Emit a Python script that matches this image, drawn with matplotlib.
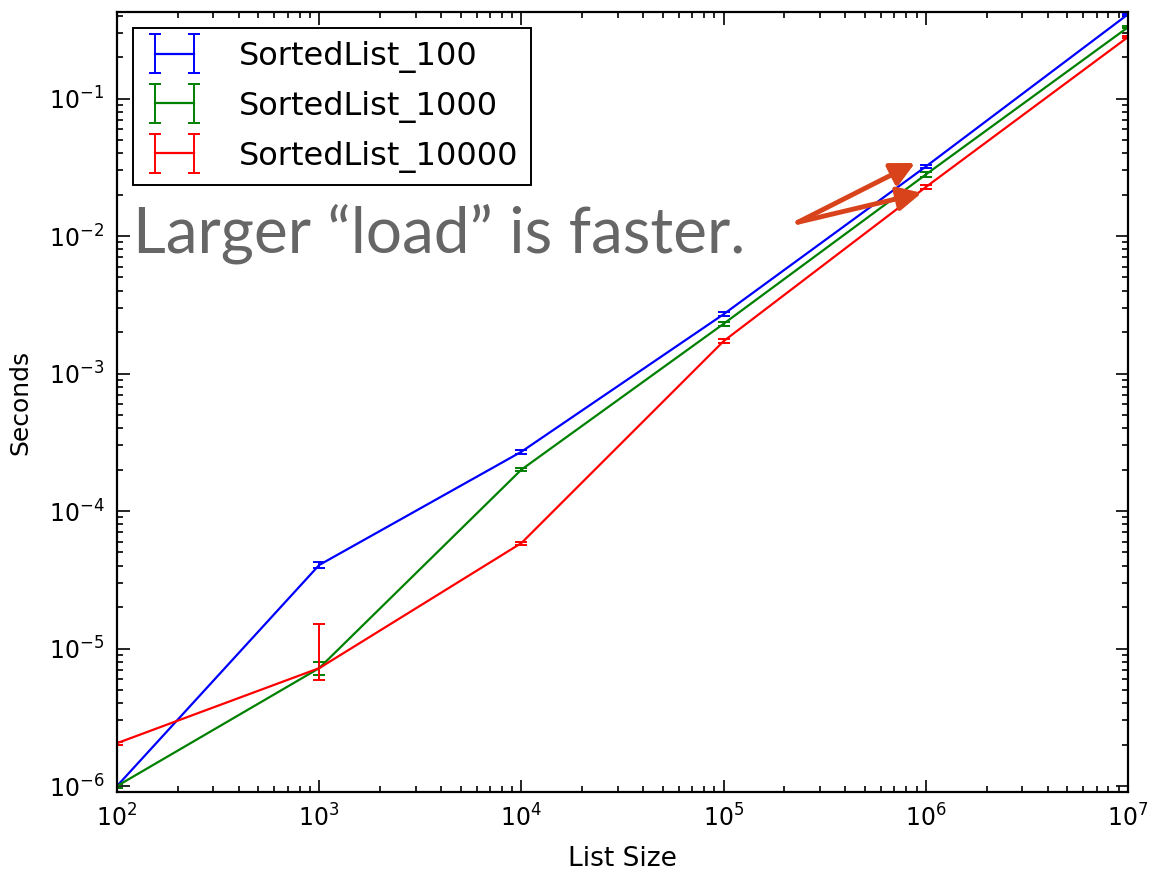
import matplotlib
matplotlib.use("Agg")
import matplotlib.pyplot as plt
from matplotlib.container import ErrorbarContainer
from matplotlib.legend_handler import HandlerErrorbar

# ---- data ----
list_sizes = [1e2, 1e3, 1e4, 1e5, 1e6, 1e7]

series_names = ["SortedList_100", "SortedList_1000", "SortedList_10000"]
series_colors = ["#0000ff", "#008000", "#ff0000"]

secs_100 = [1.0e-6, 4.05e-5, 2.7e-4, 2.7e-3, 0.032, 0.41]
secs_1000 = [1.0e-6, 7.2e-6, 2.0e-4, 2.3e-3, 0.028, 0.33]
secs_10000 = [2.05e-6, 7.2e-6, 5.85e-5, 1.72e-3, 0.0227, 0.28]

err_100 = [0.03e-6, 2.0e-6, 8e-6, 8e-5, 1.0e-3, 5e-3]
err_1000 = [0.03e-6, 0.8e-6, 6e-6, 8e-5, 1.2e-3, 5e-3]
err_10000_low = [0.05e-6, 1.3e-6, 1.5e-6, 5e-5, 8e-4, 5e-3]
err_10000_high = [0.05e-6, 7.8e-6, 1.5e-6, 5e-5, 8e-4, 5e-3]

x_label = "List Size"
y_label = "Seconds"
note_text = "Larger \u201cload\u201d is faster."

# ---- figure ----
W, H = 1157, 872
fig = plt.figure(figsize=(W / 100, H / 100), dpi=100, facecolor="white")
ax = fig.add_axes([117 / W, 1 - 792 / H, (1128 - 117) / W, (792 - 12) / H])

all_secs = [secs_100, secs_1000, secs_10000]
all_errs = [err_100, err_1000, [err_10000_low, err_10000_high]]
for name, col, ys, er in zip(series_names, series_colors, all_secs, all_errs):
    ax.errorbar(list_sizes, ys, yerr=er, color=col, lw=1.6, capsize=4,
                capthick=1.4, elinewidth=1.4, label=name)

ax.set_xscale("log")
ax.set_yscale("log")
ax.set_xlim(1e2, 1e7)
ax.set_ylim(9.05e-7, 0.426)

ax.tick_params(which="both", direction="in", top=True, right=True, width=1.2)
ax.tick_params(which="major", length=9, labelsize=17, pad=9)
ax.tick_params(which="minor", length=4.5)
for sp in ax.spines.values():
    sp.set_linewidth(1.6)

ax.set_xlabel(x_label, fontsize=19, labelpad=10)
ax.set_ylabel(y_label, fontsize=18, labelpad=12)

leg = ax.legend(loc="upper left", fontsize=23, handlelength=1.8, numpoints=2,
                handletextpad=1.1, labelspacing=0.56, borderaxespad=0.5,
                borderpad=0.4, fancybox=False, framealpha=1,
                handler_map={ErrorbarContainer: HandlerErrorbar(xerr_size=0.5, yerr_size=0.62)})
leg.get_frame().set_edgecolor("black")
leg.get_frame().set_linewidth(1.4)

# annotation text
fig.text(133 / W, 1 - 252 / H, note_text, fontsize=46, color="#666666",
         family="Lato", ha="left", va="baseline")

arrow_col = "#d9431b"
tail = (2.33e5, 0.0126)
for head in [(8.85e5, 0.034), (9.55e5, 0.0206)]:
    ax.annotate("", xy=head, xytext=tail,
                arrowprops=dict(arrowstyle="-|>", color=arrow_col, lw=3.5,
                                mutation_scale=36, shrinkA=0, shrinkB=0))

fig.savefig("out.png", dpi=100, facecolor="white")
